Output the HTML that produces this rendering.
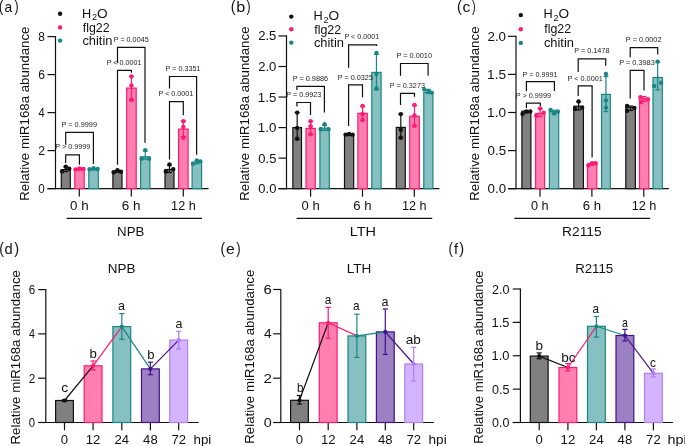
<!DOCTYPE html><html><head><meta charset="utf-8"><style>html,body{margin:0;padding:0;background:#fff;overflow:hidden;}svg{display:block;will-change:transform;}</style></head><body>
<svg width="685" height="446" viewBox="0 0 685 446" font-family='"Liberation Sans", sans-serif'>
<rect width="685" height="446" fill="#fff"/>
<line x1="55.50" y1="36.00" x2="55.50" y2="189.20" stroke="#111" stroke-width="1.2"/>
<line x1="47.50" y1="188.60" x2="55.50" y2="188.60" stroke="#111" stroke-width="1.2"/>
<text x="38.29" y="193.10" font-size="12.6" fill="#111" textLength="6.50" lengthAdjust="spacingAndGlyphs">0</text>
<line x1="47.50" y1="150.60" x2="55.50" y2="150.60" stroke="#111" stroke-width="1.2"/>
<text x="38.14" y="155.10" font-size="12.6" fill="#111" textLength="6.83" lengthAdjust="spacingAndGlyphs">2</text>
<line x1="47.50" y1="112.60" x2="55.50" y2="112.60" stroke="#111" stroke-width="1.2"/>
<text x="38.51" y="117.10" font-size="12.6" fill="#111" textLength="6.17" lengthAdjust="spacingAndGlyphs">4</text>
<line x1="47.50" y1="74.60" x2="55.50" y2="74.60" stroke="#111" stroke-width="1.2"/>
<text x="38.15" y="79.10" font-size="12.6" fill="#111" textLength="6.73" lengthAdjust="spacingAndGlyphs">6</text>
<line x1="47.50" y1="36.60" x2="55.50" y2="36.60" stroke="#111" stroke-width="1.2"/>
<text x="38.24" y="41.10" font-size="12.6" fill="#111" textLength="6.63" lengthAdjust="spacingAndGlyphs">8</text>
<line x1="47.50" y1="188.60" x2="208.50" y2="188.60" stroke="#111" stroke-width="1.2"/>
<line x1="79.30" y1="188.60" x2="79.30" y2="196.60" stroke="#111" stroke-width="1.2"/>
<text x="70.03" y="210.40" font-size="12.8" fill="#111" textLength="18.58" lengthAdjust="spacingAndGlyphs">0 h</text>
<line x1="131.30" y1="188.60" x2="131.30" y2="196.60" stroke="#111" stroke-width="1.2"/>
<text x="121.88" y="210.40" font-size="12.8" fill="#111" textLength="18.74" lengthAdjust="spacingAndGlyphs">6 h</text>
<line x1="183.30" y1="188.60" x2="183.30" y2="196.60" stroke="#111" stroke-width="1.2"/>
<text x="171.09" y="210.40" font-size="12.8" fill="#111" textLength="24.68" lengthAdjust="spacingAndGlyphs">12 h</text>
<line x1="66.60" y1="218.30" x2="202.10" y2="218.30" stroke="#111" stroke-width="1.2"/>
<text x="117.06" y="236.40" font-size="13.6" fill="#111" textLength="27.28" lengthAdjust="spacingAndGlyphs">NPB</text>
<rect x="61.30" y="169.60" width="9.00" height="19.00" fill="#808080" stroke="#111111" stroke-width="1.2"/>
<rect x="74.80" y="169.60" width="9.40" height="19.00" fill="#ff7fb0" stroke="#ff1a72" stroke-width="1.2"/>
<rect x="88.80" y="169.60" width="9.50" height="19.00" fill="#87c0c0" stroke="#1a8585" stroke-width="1.2"/>
<rect x="112.90" y="171.20" width="9.10" height="17.40" fill="#808080" stroke="#111111" stroke-width="1.2"/>
<rect x="126.70" y="88.10" width="9.50" height="100.50" fill="#ff7fb0" stroke="#ff1a72" stroke-width="1.2"/>
<rect x="140.60" y="156.80" width="9.30" height="31.80" fill="#87c0c0" stroke="#1a8585" stroke-width="1.2"/>
<rect x="165.00" y="169.50" width="9.00" height="19.10" fill="#808080" stroke="#111111" stroke-width="1.2"/>
<rect x="178.60" y="129.10" width="9.50" height="59.50" fill="#ff7fb0" stroke="#ff1a72" stroke-width="1.2"/>
<rect x="192.10" y="162.40" width="9.50" height="26.20" fill="#87c0c0" stroke="#1a8585" stroke-width="1.2"/>
<line x1="65.80" y1="166.80" x2="65.80" y2="171.60" stroke="#111111" stroke-width="1.2"/>
<line x1="63.30" y1="166.80" x2="68.30" y2="166.80" stroke="#111111" stroke-width="1.2"/>
<line x1="63.30" y1="171.60" x2="68.30" y2="171.60" stroke="#111111" stroke-width="1.2"/>
<circle cx="62.10" cy="171.40" r="2.2" fill="#111111"/>
<circle cx="65.80" cy="166.80" r="2.2" fill="#111111"/>
<circle cx="69.30" cy="168.70" r="2.2" fill="#111111"/>
<line x1="79.50" y1="168.40" x2="79.50" y2="169.80" stroke="#ff1a72" stroke-width="1.2"/>
<line x1="77.00" y1="168.40" x2="82.00" y2="168.40" stroke="#ff1a72" stroke-width="1.2"/>
<line x1="77.00" y1="169.80" x2="82.00" y2="169.80" stroke="#ff1a72" stroke-width="1.2"/>
<circle cx="75.50" cy="169.40" r="2.2" fill="#ff1a72"/>
<circle cx="79.50" cy="168.40" r="2.2" fill="#ff1a72"/>
<circle cx="83.50" cy="169.00" r="2.2" fill="#ff1a72"/>
<line x1="93.55" y1="168.40" x2="93.55" y2="169.80" stroke="#1a8585" stroke-width="1.2"/>
<line x1="91.05" y1="168.40" x2="96.05" y2="168.40" stroke="#1a8585" stroke-width="1.2"/>
<line x1="91.05" y1="169.80" x2="96.05" y2="169.80" stroke="#1a8585" stroke-width="1.2"/>
<circle cx="89.55" cy="169.20" r="2.2" fill="#1a8585"/>
<circle cx="93.55" cy="168.30" r="2.2" fill="#1a8585"/>
<circle cx="97.55" cy="169.00" r="2.2" fill="#1a8585"/>
<line x1="117.45" y1="170.30" x2="117.45" y2="172.30" stroke="#111111" stroke-width="1.2"/>
<line x1="114.95" y1="170.30" x2="119.95" y2="170.30" stroke="#111111" stroke-width="1.2"/>
<line x1="114.95" y1="172.30" x2="119.95" y2="172.30" stroke="#111111" stroke-width="1.2"/>
<circle cx="113.65" cy="172.30" r="2.2" fill="#111111"/>
<circle cx="117.45" cy="170.30" r="2.2" fill="#111111"/>
<circle cx="120.95" cy="171.80" r="2.2" fill="#111111"/>
<line x1="131.45" y1="76.40" x2="131.45" y2="100.00" stroke="#ff1a72" stroke-width="1.2"/>
<line x1="128.95" y1="76.40" x2="133.95" y2="76.40" stroke="#ff1a72" stroke-width="1.2"/>
<line x1="128.95" y1="100.00" x2="133.95" y2="100.00" stroke="#ff1a72" stroke-width="1.2"/>
<circle cx="131.45" cy="76.40" r="2.2" fill="#ff1a72"/>
<circle cx="131.45" cy="85.40" r="2.2" fill="#ff1a72"/>
<circle cx="131.45" cy="99.70" r="2.2" fill="#ff1a72"/>
<line x1="145.25" y1="151.10" x2="145.25" y2="159.20" stroke="#1a8585" stroke-width="1.2"/>
<line x1="142.75" y1="151.10" x2="147.75" y2="151.10" stroke="#1a8585" stroke-width="1.2"/>
<line x1="142.75" y1="159.20" x2="147.75" y2="159.20" stroke="#1a8585" stroke-width="1.2"/>
<circle cx="145.25" cy="150.10" r="2.2" fill="#1a8585"/>
<circle cx="141.55" cy="158.70" r="2.2" fill="#1a8585"/>
<circle cx="149.05" cy="158.70" r="2.2" fill="#1a8585"/>
<line x1="169.50" y1="165.10" x2="169.50" y2="172.50" stroke="#111111" stroke-width="1.2"/>
<line x1="167.00" y1="165.10" x2="172.00" y2="165.10" stroke="#111111" stroke-width="1.2"/>
<line x1="167.00" y1="172.50" x2="172.00" y2="172.50" stroke="#111111" stroke-width="1.2"/>
<circle cx="169.50" cy="164.50" r="2.2" fill="#111111"/>
<circle cx="165.80" cy="171.50" r="2.2" fill="#111111"/>
<circle cx="173.20" cy="169.20" r="2.2" fill="#111111"/>
<line x1="183.35" y1="120.70" x2="183.35" y2="136.50" stroke="#ff1a72" stroke-width="1.2"/>
<line x1="180.85" y1="120.70" x2="185.85" y2="120.70" stroke="#ff1a72" stroke-width="1.2"/>
<line x1="180.85" y1="136.50" x2="185.85" y2="136.50" stroke="#ff1a72" stroke-width="1.2"/>
<circle cx="183.35" cy="121.20" r="2.2" fill="#ff1a72"/>
<circle cx="183.35" cy="126.90" r="2.2" fill="#ff1a72"/>
<circle cx="183.35" cy="137.70" r="2.2" fill="#ff1a72"/>
<line x1="196.85" y1="160.50" x2="196.85" y2="163.80" stroke="#1a8585" stroke-width="1.2"/>
<line x1="194.35" y1="160.50" x2="199.35" y2="160.50" stroke="#1a8585" stroke-width="1.2"/>
<line x1="194.35" y1="163.80" x2="199.35" y2="163.80" stroke="#1a8585" stroke-width="1.2"/>
<circle cx="192.95" cy="163.80" r="2.2" fill="#1a8585"/>
<circle cx="196.85" cy="160.40" r="2.2" fill="#1a8585"/>
<circle cx="200.35" cy="161.40" r="2.2" fill="#1a8585"/>
<polyline points="65.7,163.0 65.7,154.8 79.4,154.8 79.4,164.8" fill="none" stroke="#111" stroke-width="1.2"/>
<text x="55.36" y="149.30" font-size="7.2" fill="#222" textLength="34.83" lengthAdjust="spacingAndGlyphs">P &gt; 0.9999</text>
<polyline points="65.7,144.7 65.7,132.3 93.4,132.3 93.4,163.9" fill="none" stroke="#111" stroke-width="1.2"/>
<text x="61.55" y="126.80" font-size="7.2" fill="#222" textLength="35.44" lengthAdjust="spacingAndGlyphs">P = 0.9999</text>
<polyline points="117.5,164.7 117.5,70.4 131.4,70.4 131.4,72.8" fill="none" stroke="#111" stroke-width="1.2"/>
<text x="106.76" y="64.80" font-size="7.2" fill="#222" textLength="34.63" lengthAdjust="spacingAndGlyphs">P &lt; 0.0001</text>
<polyline points="117.5,63.0 117.5,47.4 145.0,47.4 145.0,142.7" fill="none" stroke="#111" stroke-width="1.2"/>
<text x="113.76" y="42.00" font-size="7.2" fill="#222" textLength="34.89" lengthAdjust="spacingAndGlyphs">P = 0.0045</text>
<polyline points="169.5,159.4 169.5,101.7 183.3,101.7 183.3,115.3" fill="none" stroke="#111" stroke-width="1.2"/>
<text x="158.56" y="96.00" font-size="7.2" fill="#222" textLength="34.73" lengthAdjust="spacingAndGlyphs">P &lt; 0.0001</text>
<polyline points="169.5,88.4 169.5,76.5 196.6,76.5 196.6,154.8" fill="none" stroke="#111" stroke-width="1.2"/>
<text x="165.56" y="71.40" font-size="7.2" fill="#222" textLength="34.94" lengthAdjust="spacingAndGlyphs">P = 0.3351</text>
<circle cx="60.10" cy="13.80" r="2.2" fill="#111"/>
<circle cx="60.10" cy="27.40" r="2.2" fill="#ff1a72"/>
<circle cx="60.10" cy="40.60" r="2.2" fill="#1a8585"/>
<text x="82.10" y="17.70" font-size="12.6" fill="#111" textLength="9.2" lengthAdjust="spacingAndGlyphs">H</text>
<text x="91.90" y="20.20" font-size="9.2" fill="#111">2</text>
<text x="96.90" y="17.70" font-size="12.6" fill="#111" textLength="10.6" lengthAdjust="spacingAndGlyphs">O</text>
<text x="82.78" y="31.60" font-size="12.6" fill="#111" textLength="26.80" lengthAdjust="spacingAndGlyphs">flg22</text>
<text x="82.41" y="44.70" font-size="12.6" fill="#111" textLength="30.07" lengthAdjust="spacingAndGlyphs">chitin</text>
<text x="-1.14" y="12.30" font-size="16.6" fill="#111" textLength="4.51" lengthAdjust="spacingAndGlyphs">(</text>
<text x="4.62" y="11.70" font-size="14.3" fill="#111" textLength="7.67" lengthAdjust="spacingAndGlyphs">a</text>
<text x="14.54" y="12.30" font-size="16.6" fill="#111" textLength="4.13" lengthAdjust="spacingAndGlyphs">)</text>
<g transform="translate(29.20,200.74) rotate(-90)"><text x="0" y="0" font-size="13.3" fill="#111" textLength="174.17" lengthAdjust="spacingAndGlyphs">Relative miR168a abundance</text></g>
<line x1="286.50" y1="35.35" x2="286.50" y2="189.30" stroke="#111" stroke-width="1.2"/>
<line x1="278.50" y1="188.70" x2="286.50" y2="188.70" stroke="#111" stroke-width="1.2"/>
<text x="258.35" y="193.20" font-size="12.6" fill="#111" textLength="18.00" lengthAdjust="spacingAndGlyphs">0.0</text>
<line x1="278.50" y1="158.15" x2="286.50" y2="158.15" stroke="#111" stroke-width="1.2"/>
<text x="258.34" y="162.65" font-size="12.6" fill="#111" textLength="18.04" lengthAdjust="spacingAndGlyphs">0.5</text>
<line x1="278.50" y1="127.60" x2="286.50" y2="127.60" stroke="#111" stroke-width="1.2"/>
<text x="257.84" y="132.10" font-size="12.6" fill="#111" textLength="18.52" lengthAdjust="spacingAndGlyphs">1.0</text>
<line x1="278.50" y1="97.05" x2="286.50" y2="97.05" stroke="#111" stroke-width="1.2"/>
<text x="257.84" y="101.55" font-size="12.6" fill="#111" textLength="18.56" lengthAdjust="spacingAndGlyphs">1.5</text>
<line x1="278.50" y1="66.50" x2="286.50" y2="66.50" stroke="#111" stroke-width="1.2"/>
<text x="258.20" y="71.00" font-size="12.6" fill="#111" textLength="18.15" lengthAdjust="spacingAndGlyphs">2.0</text>
<line x1="278.50" y1="35.95" x2="286.50" y2="35.95" stroke="#111" stroke-width="1.2"/>
<text x="258.20" y="40.45" font-size="12.6" fill="#111" textLength="18.19" lengthAdjust="spacingAndGlyphs">2.5</text>
<line x1="278.50" y1="188.70" x2="439.40" y2="188.70" stroke="#111" stroke-width="1.2"/>
<line x1="310.60" y1="188.70" x2="310.60" y2="196.70" stroke="#111" stroke-width="1.2"/>
<text x="301.54" y="210.40" font-size="12.8" fill="#111" textLength="18.15" lengthAdjust="spacingAndGlyphs">0 h</text>
<line x1="362.50" y1="188.70" x2="362.50" y2="196.70" stroke="#111" stroke-width="1.2"/>
<text x="353.29" y="210.40" font-size="12.8" fill="#111" textLength="18.30" lengthAdjust="spacingAndGlyphs">6 h</text>
<line x1="414.30" y1="188.70" x2="414.30" y2="196.70" stroke="#111" stroke-width="1.2"/>
<text x="401.99" y="210.40" font-size="12.8" fill="#111" textLength="24.68" lengthAdjust="spacingAndGlyphs">12 h</text>
<line x1="296.60" y1="218.30" x2="432.20" y2="218.30" stroke="#111" stroke-width="1.2"/>
<text x="349.76" y="236.40" font-size="13.6" fill="#111" textLength="26.26" lengthAdjust="spacingAndGlyphs">LTH</text>
<rect x="292.85" y="127.60" width="8.65" height="61.10" fill="#808080" stroke="#111111" stroke-width="1.2"/>
<rect x="306.00" y="128.40" width="9.30" height="60.30" fill="#ff7fb0" stroke="#ff1a72" stroke-width="1.2"/>
<rect x="319.90" y="128.20" width="9.40" height="60.50" fill="#87c0c0" stroke="#1a8585" stroke-width="1.2"/>
<rect x="344.50" y="134.60" width="9.20" height="54.10" fill="#808080" stroke="#111111" stroke-width="1.2"/>
<rect x="357.90" y="113.30" width="9.40" height="75.40" fill="#ff7fb0" stroke="#ff1a72" stroke-width="1.2"/>
<rect x="371.80" y="72.40" width="9.30" height="116.30" fill="#87c0c0" stroke="#1a8585" stroke-width="1.2"/>
<rect x="396.30" y="127.40" width="9.00" height="61.30" fill="#808080" stroke="#111111" stroke-width="1.2"/>
<rect x="409.70" y="116.30" width="9.60" height="72.40" fill="#ff7fb0" stroke="#ff1a72" stroke-width="1.2"/>
<rect x="423.80" y="92.30" width="9.10" height="96.40" fill="#87c0c0" stroke="#1a8585" stroke-width="1.2"/>
<line x1="297.18" y1="112.60" x2="297.18" y2="139.50" stroke="#111111" stroke-width="1.2"/>
<line x1="294.68" y1="112.60" x2="299.68" y2="112.60" stroke="#111111" stroke-width="1.2"/>
<line x1="294.68" y1="139.50" x2="299.68" y2="139.50" stroke="#111111" stroke-width="1.2"/>
<circle cx="297.18" cy="112.60" r="2.2" fill="#111111"/>
<circle cx="297.18" cy="128.00" r="2.2" fill="#111111"/>
<circle cx="297.18" cy="138.80" r="2.2" fill="#111111"/>
<line x1="310.65" y1="121.50" x2="310.65" y2="134.50" stroke="#ff1a72" stroke-width="1.2"/>
<line x1="308.15" y1="121.50" x2="313.15" y2="121.50" stroke="#ff1a72" stroke-width="1.2"/>
<line x1="308.15" y1="134.50" x2="313.15" y2="134.50" stroke="#ff1a72" stroke-width="1.2"/>
<circle cx="310.65" cy="121.10" r="2.2" fill="#ff1a72"/>
<circle cx="310.65" cy="126.20" r="2.2" fill="#ff1a72"/>
<circle cx="310.65" cy="134.20" r="2.2" fill="#ff1a72"/>
<line x1="324.60" y1="125.50" x2="324.60" y2="130.50" stroke="#1a8585" stroke-width="1.2"/>
<line x1="322.10" y1="125.50" x2="327.10" y2="125.50" stroke="#1a8585" stroke-width="1.2"/>
<line x1="322.10" y1="130.50" x2="327.10" y2="130.50" stroke="#1a8585" stroke-width="1.2"/>
<circle cx="324.60" cy="124.20" r="2.2" fill="#1a8585"/>
<circle cx="320.70" cy="129.20" r="2.2" fill="#1a8585"/>
<circle cx="328.50" cy="129.20" r="2.2" fill="#1a8585"/>
<line x1="349.10" y1="133.80" x2="349.10" y2="135.50" stroke="#111111" stroke-width="1.2"/>
<line x1="346.60" y1="133.80" x2="351.60" y2="133.80" stroke="#111111" stroke-width="1.2"/>
<line x1="346.60" y1="135.50" x2="351.60" y2="135.50" stroke="#111111" stroke-width="1.2"/>
<circle cx="345.60" cy="134.60" r="2.2" fill="#111111"/>
<circle cx="349.10" cy="134.00" r="2.2" fill="#111111"/>
<circle cx="352.60" cy="134.60" r="2.2" fill="#111111"/>
<line x1="362.60" y1="106.50" x2="362.60" y2="120.30" stroke="#ff1a72" stroke-width="1.2"/>
<line x1="360.10" y1="106.50" x2="365.10" y2="106.50" stroke="#ff1a72" stroke-width="1.2"/>
<line x1="360.10" y1="120.30" x2="365.10" y2="120.30" stroke="#ff1a72" stroke-width="1.2"/>
<circle cx="362.60" cy="105.90" r="2.2" fill="#ff1a72"/>
<circle cx="362.60" cy="114.20" r="2.2" fill="#ff1a72"/>
<circle cx="362.60" cy="120.00" r="2.2" fill="#ff1a72"/>
<line x1="376.45" y1="54.30" x2="376.45" y2="89.70" stroke="#1a8585" stroke-width="1.2"/>
<line x1="373.95" y1="54.30" x2="378.95" y2="54.30" stroke="#1a8585" stroke-width="1.2"/>
<line x1="373.95" y1="89.70" x2="378.95" y2="89.70" stroke="#1a8585" stroke-width="1.2"/>
<circle cx="376.45" cy="53.00" r="2.2" fill="#1a8585"/>
<circle cx="376.45" cy="74.10" r="2.2" fill="#1a8585"/>
<circle cx="376.45" cy="88.50" r="2.2" fill="#1a8585"/>
<line x1="400.80" y1="114.10" x2="400.80" y2="137.80" stroke="#111111" stroke-width="1.2"/>
<line x1="398.30" y1="114.10" x2="403.30" y2="114.10" stroke="#111111" stroke-width="1.2"/>
<line x1="398.30" y1="137.80" x2="403.30" y2="137.80" stroke="#111111" stroke-width="1.2"/>
<circle cx="400.80" cy="114.10" r="2.2" fill="#111111"/>
<circle cx="400.80" cy="129.70" r="2.2" fill="#111111"/>
<circle cx="400.80" cy="137.80" r="2.2" fill="#111111"/>
<line x1="414.50" y1="105.50" x2="414.50" y2="125.90" stroke="#ff1a72" stroke-width="1.2"/>
<line x1="412.00" y1="105.50" x2="417.00" y2="105.50" stroke="#ff1a72" stroke-width="1.2"/>
<line x1="412.00" y1="125.90" x2="417.00" y2="125.90" stroke="#ff1a72" stroke-width="1.2"/>
<circle cx="414.50" cy="104.90" r="2.2" fill="#ff1a72"/>
<circle cx="414.50" cy="115.50" r="2.2" fill="#ff1a72"/>
<circle cx="414.50" cy="125.70" r="2.2" fill="#ff1a72"/>
<line x1="428.35" y1="89.60" x2="428.35" y2="93.50" stroke="#1a8585" stroke-width="1.2"/>
<line x1="425.85" y1="89.60" x2="430.85" y2="89.60" stroke="#1a8585" stroke-width="1.2"/>
<line x1="425.85" y1="93.50" x2="430.85" y2="93.50" stroke="#1a8585" stroke-width="1.2"/>
<circle cx="424.35" cy="89.40" r="2.2" fill="#1a8585"/>
<circle cx="428.35" cy="90.80" r="2.2" fill="#1a8585"/>
<circle cx="431.65" cy="92.60" r="2.2" fill="#1a8585"/>
<polyline points="296.9,106.5 296.9,102.5 310.5,102.5 310.5,115.0" fill="none" stroke="#111" stroke-width="1.2"/>
<text x="286.36" y="96.70" font-size="7.2" fill="#222" textLength="34.90" lengthAdjust="spacingAndGlyphs">P = 0.9923</text>
<polyline points="296.9,90.0 296.9,86.4 324.4,86.4 324.4,112.5" fill="none" stroke="#111" stroke-width="1.2"/>
<text x="292.75" y="80.80" font-size="7.2" fill="#222" textLength="35.31" lengthAdjust="spacingAndGlyphs">P = 0.9886</text>
<polyline points="348.6,126.1 348.6,84.8 362.5,84.8 362.5,97.2" fill="none" stroke="#111" stroke-width="1.2"/>
<text x="337.75" y="79.50" font-size="7.2" fill="#222" textLength="35.19" lengthAdjust="spacingAndGlyphs">P = 0.0325</text>
<polyline points="348.6,67.8 348.6,44.8 376.6,44.8 376.6,46.0" fill="none" stroke="#111" stroke-width="1.2"/>
<text x="344.46" y="39.10" font-size="7.2" fill="#222" textLength="34.84" lengthAdjust="spacingAndGlyphs">P &lt; 0.0001</text>
<polyline points="400.5,104.9 400.5,93.3 414.5,93.3 414.5,96.8" fill="none" stroke="#111" stroke-width="1.2"/>
<text x="389.75" y="87.80" font-size="7.2" fill="#222" textLength="35.21" lengthAdjust="spacingAndGlyphs">P = 0.3273</text>
<polyline points="400.5,75.7 400.5,63.5 428.1,63.5 428.1,75.7" fill="none" stroke="#111" stroke-width="1.2"/>
<text x="396.45" y="57.90" font-size="7.2" fill="#222" textLength="35.58" lengthAdjust="spacingAndGlyphs">P = 0.0010</text>
<circle cx="291.30" cy="16.60" r="2.2" fill="#111"/>
<circle cx="291.30" cy="29.20" r="2.2" fill="#ff1a72"/>
<circle cx="291.30" cy="42.60" r="2.2" fill="#1a8585"/>
<text x="313.60" y="20.30" font-size="12.6" fill="#111" textLength="9.2" lengthAdjust="spacingAndGlyphs">H</text>
<text x="323.40" y="22.80" font-size="9.2" fill="#111">2</text>
<text x="328.40" y="20.30" font-size="12.6" fill="#111" textLength="10.6" lengthAdjust="spacingAndGlyphs">O</text>
<text x="314.28" y="33.50" font-size="12.6" fill="#111" textLength="26.80" lengthAdjust="spacingAndGlyphs">flg22</text>
<text x="313.91" y="46.60" font-size="12.6" fill="#111" textLength="30.07" lengthAdjust="spacingAndGlyphs">chitin</text>
<text x="230.81" y="12.30" font-size="16.6" fill="#111" textLength="4.76" lengthAdjust="spacingAndGlyphs">(</text>
<text x="236.36" y="11.70" font-size="14.3" fill="#111" textLength="9.00" lengthAdjust="spacingAndGlyphs">b</text>
<text x="246.54" y="12.30" font-size="16.6" fill="#111" textLength="4.13" lengthAdjust="spacingAndGlyphs">)</text>
<g transform="translate(249.00,200.74) rotate(-90)"><text x="0" y="0" font-size="13.3" fill="#111" textLength="174.27" lengthAdjust="spacingAndGlyphs">Relative miR168a abundance</text></g>
<line x1="516.00" y1="35.70" x2="516.00" y2="189.30" stroke="#111" stroke-width="1.2"/>
<line x1="508.00" y1="188.70" x2="516.00" y2="188.70" stroke="#111" stroke-width="1.2"/>
<text x="487.63" y="193.20" font-size="12.6" fill="#111" textLength="18.42" lengthAdjust="spacingAndGlyphs">0.0</text>
<line x1="508.00" y1="150.60" x2="516.00" y2="150.60" stroke="#111" stroke-width="1.2"/>
<text x="487.63" y="155.10" font-size="12.6" fill="#111" textLength="18.46" lengthAdjust="spacingAndGlyphs">0.5</text>
<line x1="508.00" y1="112.50" x2="516.00" y2="112.50" stroke="#111" stroke-width="1.2"/>
<text x="487.11" y="117.00" font-size="12.6" fill="#111" textLength="18.96" lengthAdjust="spacingAndGlyphs">1.0</text>
<line x1="508.00" y1="74.40" x2="516.00" y2="74.40" stroke="#111" stroke-width="1.2"/>
<text x="487.11" y="78.90" font-size="12.6" fill="#111" textLength="19.00" lengthAdjust="spacingAndGlyphs">1.5</text>
<line x1="508.00" y1="36.30" x2="516.00" y2="36.30" stroke="#111" stroke-width="1.2"/>
<text x="487.48" y="40.80" font-size="12.6" fill="#111" textLength="18.58" lengthAdjust="spacingAndGlyphs">2.0</text>
<line x1="508.00" y1="188.70" x2="668.80" y2="188.70" stroke="#111" stroke-width="1.2"/>
<line x1="540.00" y1="188.70" x2="540.00" y2="196.70" stroke="#111" stroke-width="1.2"/>
<text x="530.95" y="210.40" font-size="12.8" fill="#111" textLength="17.71" lengthAdjust="spacingAndGlyphs">0 h</text>
<line x1="591.90" y1="188.70" x2="591.90" y2="196.70" stroke="#111" stroke-width="1.2"/>
<text x="582.69" y="210.40" font-size="12.8" fill="#111" textLength="18.30" lengthAdjust="spacingAndGlyphs">6 h</text>
<line x1="643.80" y1="188.70" x2="643.80" y2="196.70" stroke="#111" stroke-width="1.2"/>
<text x="631.69" y="210.40" font-size="12.8" fill="#111" textLength="24.68" lengthAdjust="spacingAndGlyphs">12 h</text>
<line x1="514.40" y1="218.30" x2="650.20" y2="218.30" stroke="#111" stroke-width="1.2"/>
<text x="562.12" y="236.40" font-size="13.6" fill="#111" textLength="39.50" lengthAdjust="spacingAndGlyphs">R2115</text>
<rect x="521.90" y="111.20" width="9.00" height="77.50" fill="#808080" stroke="#111111" stroke-width="1.2"/>
<rect x="535.60" y="113.40" width="9.00" height="75.30" fill="#ff7fb0" stroke="#ff1a72" stroke-width="1.2"/>
<rect x="549.40" y="111.60" width="9.30" height="77.10" fill="#87c0c0" stroke="#1a8585" stroke-width="1.2"/>
<rect x="573.80" y="106.20" width="9.60" height="82.50" fill="#808080" stroke="#111111" stroke-width="1.2"/>
<rect x="587.50" y="163.80" width="9.30" height="24.90" fill="#ff7fb0" stroke="#ff1a72" stroke-width="1.2"/>
<rect x="601.60" y="94.40" width="8.70" height="94.30" fill="#87c0c0" stroke="#1a8585" stroke-width="1.2"/>
<rect x="625.80" y="107.40" width="9.60" height="81.30" fill="#808080" stroke="#111111" stroke-width="1.2"/>
<rect x="639.50" y="98.60" width="9.30" height="90.10" fill="#ff7fb0" stroke="#ff1a72" stroke-width="1.2"/>
<rect x="653.00" y="77.50" width="9.30" height="111.20" fill="#87c0c0" stroke="#1a8585" stroke-width="1.2"/>
<line x1="526.40" y1="110.60" x2="526.40" y2="112.80" stroke="#111111" stroke-width="1.2"/>
<line x1="523.90" y1="110.60" x2="528.90" y2="110.60" stroke="#111111" stroke-width="1.2"/>
<line x1="523.90" y1="112.80" x2="528.90" y2="112.80" stroke="#111111" stroke-width="1.2"/>
<circle cx="522.50" cy="114.00" r="2.2" fill="#111111"/>
<circle cx="526.40" cy="111.50" r="2.2" fill="#111111"/>
<circle cx="530.30" cy="111.50" r="2.2" fill="#111111"/>
<line x1="540.10" y1="108.60" x2="540.10" y2="116.50" stroke="#ff1a72" stroke-width="1.2"/>
<line x1="537.60" y1="108.60" x2="542.60" y2="108.60" stroke="#ff1a72" stroke-width="1.2"/>
<line x1="537.60" y1="116.50" x2="542.60" y2="116.50" stroke="#ff1a72" stroke-width="1.2"/>
<circle cx="540.10" cy="108.50" r="2.2" fill="#ff1a72"/>
<circle cx="536.20" cy="115.80" r="2.2" fill="#ff1a72"/>
<circle cx="543.60" cy="112.70" r="2.2" fill="#ff1a72"/>
<line x1="554.05" y1="110.30" x2="554.05" y2="114.00" stroke="#1a8585" stroke-width="1.2"/>
<line x1="551.55" y1="110.30" x2="556.55" y2="110.30" stroke="#1a8585" stroke-width="1.2"/>
<line x1="551.55" y1="114.00" x2="556.55" y2="114.00" stroke="#1a8585" stroke-width="1.2"/>
<circle cx="550.55" cy="110.00" r="2.2" fill="#1a8585"/>
<circle cx="554.05" cy="113.50" r="2.2" fill="#1a8585"/>
<circle cx="557.85" cy="111.50" r="2.2" fill="#1a8585"/>
<line x1="578.60" y1="101.80" x2="578.60" y2="110.00" stroke="#111111" stroke-width="1.2"/>
<line x1="576.10" y1="101.80" x2="581.10" y2="101.80" stroke="#111111" stroke-width="1.2"/>
<line x1="576.10" y1="110.00" x2="581.10" y2="110.00" stroke="#111111" stroke-width="1.2"/>
<circle cx="578.60" cy="101.50" r="2.2" fill="#111111"/>
<circle cx="575.10" cy="108.90" r="2.2" fill="#111111"/>
<circle cx="582.10" cy="107.60" r="2.2" fill="#111111"/>
<line x1="592.15" y1="162.60" x2="592.15" y2="165.00" stroke="#ff1a72" stroke-width="1.2"/>
<line x1="589.65" y1="162.60" x2="594.65" y2="162.60" stroke="#ff1a72" stroke-width="1.2"/>
<line x1="589.65" y1="165.00" x2="594.65" y2="165.00" stroke="#ff1a72" stroke-width="1.2"/>
<circle cx="588.35" cy="165.50" r="2.2" fill="#ff1a72"/>
<circle cx="592.15" cy="163.20" r="2.2" fill="#ff1a72"/>
<circle cx="595.55" cy="163.20" r="2.2" fill="#ff1a72"/>
<line x1="605.95" y1="76.50" x2="605.95" y2="111.60" stroke="#1a8585" stroke-width="1.2"/>
<line x1="603.45" y1="76.50" x2="608.45" y2="76.50" stroke="#1a8585" stroke-width="1.2"/>
<line x1="603.45" y1="111.60" x2="608.45" y2="111.60" stroke="#1a8585" stroke-width="1.2"/>
<circle cx="605.95" cy="74.00" r="2.2" fill="#1a8585"/>
<circle cx="605.95" cy="100.40" r="2.2" fill="#1a8585"/>
<circle cx="605.95" cy="107.60" r="2.2" fill="#1a8585"/>
<line x1="630.60" y1="106.00" x2="630.60" y2="110.50" stroke="#111111" stroke-width="1.2"/>
<line x1="628.10" y1="106.00" x2="633.10" y2="106.00" stroke="#111111" stroke-width="1.2"/>
<line x1="628.10" y1="110.50" x2="633.10" y2="110.50" stroke="#111111" stroke-width="1.2"/>
<circle cx="627.10" cy="106.00" r="2.2" fill="#111111"/>
<circle cx="627.10" cy="110.70" r="2.2" fill="#111111"/>
<circle cx="634.40" cy="108.00" r="2.2" fill="#111111"/>
<line x1="644.15" y1="96.50" x2="644.15" y2="101.50" stroke="#ff1a72" stroke-width="1.2"/>
<line x1="641.65" y1="96.50" x2="646.65" y2="96.50" stroke="#ff1a72" stroke-width="1.2"/>
<line x1="641.65" y1="101.50" x2="646.65" y2="101.50" stroke="#ff1a72" stroke-width="1.2"/>
<circle cx="640.45" cy="97.30" r="2.2" fill="#ff1a72"/>
<circle cx="641.15" cy="102.00" r="2.2" fill="#ff1a72"/>
<circle cx="647.85" cy="99.30" r="2.2" fill="#ff1a72"/>
<line x1="657.65" y1="62.50" x2="657.65" y2="89.90" stroke="#1a8585" stroke-width="1.2"/>
<line x1="655.15" y1="62.50" x2="660.15" y2="62.50" stroke="#1a8585" stroke-width="1.2"/>
<line x1="655.15" y1="89.90" x2="660.15" y2="89.90" stroke="#1a8585" stroke-width="1.2"/>
<circle cx="657.65" cy="61.60" r="2.2" fill="#1a8585"/>
<circle cx="654.15" cy="85.90" r="2.2" fill="#1a8585"/>
<circle cx="661.15" cy="82.80" r="2.2" fill="#1a8585"/>
<polyline points="526.4,108.0 526.4,103.1 540.3,103.1 540.3,106.0" fill="none" stroke="#111" stroke-width="1.2"/>
<text x="515.75" y="97.80" font-size="7.2" fill="#222" textLength="35.24" lengthAdjust="spacingAndGlyphs">P &gt; 0.9999</text>
<polyline points="526.4,91.3 526.4,81.6 554.4,81.6 554.4,91.0" fill="none" stroke="#111" stroke-width="1.2"/>
<text x="522.56" y="76.50" font-size="7.2" fill="#222" textLength="34.84" lengthAdjust="spacingAndGlyphs">P = 0.9991</text>
<polyline points="578.2,96.1 578.2,85.8 592.1,85.8 592.1,157.6" fill="none" stroke="#111" stroke-width="1.2"/>
<text x="567.55" y="80.50" font-size="7.2" fill="#222" textLength="35.25" lengthAdjust="spacingAndGlyphs">P &lt; 0.0001</text>
<polyline points="578.2,72.0 578.2,58.9 605.7,58.9 605.7,65.7" fill="none" stroke="#111" stroke-width="1.2"/>
<text x="574.25" y="53.40" font-size="7.2" fill="#222" textLength="35.21" lengthAdjust="spacingAndGlyphs">P = 0.1478</text>
<polyline points="630.2,98.6 630.2,70.4 644.0,70.4 644.0,90.6" fill="none" stroke="#111" stroke-width="1.2"/>
<text x="619.15" y="65.00" font-size="7.2" fill="#222" textLength="35.62" lengthAdjust="spacingAndGlyphs">P = 0.3983</text>
<polyline points="630.2,57.3 630.2,47.6 657.7,47.6 657.7,54.6" fill="none" stroke="#111" stroke-width="1.2"/>
<text x="625.85" y="41.80" font-size="7.2" fill="#222" textLength="35.67" lengthAdjust="spacingAndGlyphs">P = 0.0002</text>
<circle cx="520.80" cy="15.10" r="2.2" fill="#111"/>
<circle cx="520.80" cy="29.20" r="2.2" fill="#ff1a72"/>
<circle cx="520.80" cy="42.90" r="2.2" fill="#1a8585"/>
<text x="543.60" y="18.40" font-size="12.6" fill="#111" textLength="9.2" lengthAdjust="spacingAndGlyphs">H</text>
<text x="553.40" y="20.90" font-size="9.2" fill="#111">2</text>
<text x="558.40" y="18.40" font-size="12.6" fill="#111" textLength="10.6" lengthAdjust="spacingAndGlyphs">O</text>
<text x="544.28" y="33.40" font-size="12.6" fill="#111" textLength="26.80" lengthAdjust="spacingAndGlyphs">flg22</text>
<text x="543.91" y="46.50" font-size="12.6" fill="#111" textLength="30.07" lengthAdjust="spacingAndGlyphs">chitin</text>
<text x="457.11" y="12.30" font-size="16.6" fill="#111" textLength="4.76" lengthAdjust="spacingAndGlyphs">(</text>
<text x="462.64" y="11.70" font-size="14.3" fill="#111" textLength="7.87" lengthAdjust="spacingAndGlyphs">c</text>
<text x="471.95" y="12.30" font-size="16.6" fill="#111" textLength="3.63" lengthAdjust="spacingAndGlyphs">)</text>
<g transform="translate(478.80,200.74) rotate(-90)"><text x="0" y="0" font-size="13.3" fill="#111" textLength="174.27" lengthAdjust="spacingAndGlyphs">Relative miR168a abundance</text></g>
<line x1="45.80" y1="289.00" x2="45.80" y2="423.10" stroke="#111" stroke-width="1.2"/>
<line x1="38.20" y1="422.50" x2="45.80" y2="422.50" stroke="#111" stroke-width="1.2"/>
<text x="28.81" y="427.00" font-size="12.6" fill="#111" textLength="6.27" lengthAdjust="spacingAndGlyphs">0</text>
<line x1="38.20" y1="378.20" x2="45.80" y2="378.20" stroke="#111" stroke-width="1.2"/>
<text x="28.66" y="382.70" font-size="12.6" fill="#111" textLength="6.59" lengthAdjust="spacingAndGlyphs">2</text>
<line x1="38.20" y1="333.90" x2="45.80" y2="333.90" stroke="#111" stroke-width="1.2"/>
<text x="29.01" y="338.40" font-size="12.6" fill="#111" textLength="5.95" lengthAdjust="spacingAndGlyphs">4</text>
<line x1="38.20" y1="289.60" x2="45.80" y2="289.60" stroke="#111" stroke-width="1.2"/>
<text x="28.67" y="294.10" font-size="12.6" fill="#111" textLength="6.49" lengthAdjust="spacingAndGlyphs">6</text>
<line x1="38.20" y1="422.50" x2="198.60" y2="422.50" stroke="#111" stroke-width="1.2"/>
<line x1="64.50" y1="422.50" x2="64.50" y2="430.30" stroke="#111" stroke-width="1.2"/>
<text x="64.50" y="443.90" font-size="13.1" fill="#111" text-anchor="middle">0</text>
<line x1="93.10" y1="422.50" x2="93.10" y2="430.30" stroke="#111" stroke-width="1.2"/>
<text x="93.10" y="443.90" font-size="13.1" fill="#111" text-anchor="middle">12</text>
<line x1="121.80" y1="422.50" x2="121.80" y2="430.30" stroke="#111" stroke-width="1.2"/>
<text x="121.80" y="443.90" font-size="13.1" fill="#111" text-anchor="middle">24</text>
<line x1="150.40" y1="422.50" x2="150.40" y2="430.30" stroke="#111" stroke-width="1.2"/>
<text x="150.40" y="443.90" font-size="13.1" fill="#111" text-anchor="middle">48</text>
<line x1="178.70" y1="422.50" x2="178.70" y2="430.30" stroke="#111" stroke-width="1.2"/>
<text x="178.70" y="443.90" font-size="13.1" fill="#111" text-anchor="middle">72</text>
<text x="193.53" y="443.50" font-size="12.8" fill="#111" textLength="17.82" lengthAdjust="spacingAndGlyphs">hpi</text>
<text x="107.85" y="272.60" font-size="13.6" fill="#111" textLength="27.71" lengthAdjust="spacingAndGlyphs">NPB</text>
<rect x="55.60" y="400.50" width="17.80" height="22.00" fill="#808080" stroke="#111111" stroke-width="1.2"/>
<rect x="84.20" y="365.80" width="17.80" height="56.70" fill="#ff7fb0" stroke="#ff1a72" stroke-width="1.2"/>
<rect x="112.90" y="326.60" width="17.80" height="95.90" fill="#87c0c0" stroke="#1a8585" stroke-width="1.2"/>
<rect x="141.50" y="368.90" width="17.80" height="53.60" fill="#9b80c2" stroke="#42108f" stroke-width="1.2"/>
<rect x="169.80" y="340.10" width="17.80" height="82.40" fill="#d5b4ff" stroke="#b07ff0" stroke-width="1.2"/>
<line x1="64.50" y1="400.50" x2="93.10" y2="365.80" stroke="#111111" stroke-width="1.2"/>
<line x1="93.10" y1="365.80" x2="121.80" y2="326.60" stroke="#ff1a72" stroke-width="1.2"/>
<line x1="121.80" y1="326.60" x2="150.40" y2="368.90" stroke="#1a8585" stroke-width="1.2"/>
<line x1="150.40" y1="368.90" x2="178.70" y2="340.10" stroke="#42108f" stroke-width="1.2"/>
<line x1="64.50" y1="399.60" x2="64.50" y2="401.50" stroke="#111111" stroke-width="1.2"/>
<line x1="61.90" y1="399.60" x2="67.10" y2="399.60" stroke="#111111" stroke-width="1.2"/>
<line x1="61.90" y1="401.50" x2="67.10" y2="401.50" stroke="#111111" stroke-width="1.2"/>
<circle cx="64.50" cy="400.50" r="2.1" fill="#111111"/>
<text x="61.17" y="391.90" font-size="12.6" fill="#111" textLength="6.94" lengthAdjust="spacingAndGlyphs">c</text>
<line x1="93.10" y1="361.00" x2="93.10" y2="370.10" stroke="#ff1a72" stroke-width="1.2"/>
<line x1="90.50" y1="361.00" x2="95.70" y2="361.00" stroke="#ff1a72" stroke-width="1.2"/>
<line x1="90.50" y1="370.10" x2="95.70" y2="370.10" stroke="#ff1a72" stroke-width="1.2"/>
<circle cx="93.10" cy="365.80" r="2.1" fill="#ff1a72"/>
<text x="89.50" y="357.50" font-size="12.6" fill="#111" textLength="7.40" lengthAdjust="spacingAndGlyphs">b</text>
<line x1="121.80" y1="313.60" x2="121.80" y2="339.30" stroke="#1a8585" stroke-width="1.2"/>
<line x1="119.20" y1="313.60" x2="124.40" y2="313.60" stroke="#1a8585" stroke-width="1.2"/>
<line x1="119.20" y1="339.30" x2="124.40" y2="339.30" stroke="#1a8585" stroke-width="1.2"/>
<circle cx="121.80" cy="326.60" r="2.1" fill="#1a8585"/>
<text x="117.93" y="309.80" font-size="12.6" fill="#111" textLength="6.91" lengthAdjust="spacingAndGlyphs">a</text>
<line x1="150.40" y1="362.20" x2="150.40" y2="374.70" stroke="#42108f" stroke-width="1.2"/>
<line x1="147.80" y1="362.20" x2="153.00" y2="362.20" stroke="#42108f" stroke-width="1.2"/>
<line x1="147.80" y1="374.70" x2="153.00" y2="374.70" stroke="#42108f" stroke-width="1.2"/>
<circle cx="150.40" cy="368.90" r="2.1" fill="#42108f"/>
<text x="147.31" y="358.50" font-size="12.6" fill="#111" textLength="7.28" lengthAdjust="spacingAndGlyphs">b</text>
<line x1="178.70" y1="331.30" x2="178.70" y2="349.10" stroke="#b07ff0" stroke-width="1.2"/>
<line x1="176.10" y1="331.30" x2="181.30" y2="331.30" stroke="#b07ff0" stroke-width="1.2"/>
<line x1="176.10" y1="349.10" x2="181.30" y2="349.10" stroke="#b07ff0" stroke-width="1.2"/>
<circle cx="178.70" cy="340.10" r="2.1" fill="#b07ff0"/>
<text x="175.43" y="327.90" font-size="12.6" fill="#111" textLength="6.91" lengthAdjust="spacingAndGlyphs">a</text>
<text x="-0.86" y="254.10" font-size="16.6" fill="#111" textLength="4.63" lengthAdjust="spacingAndGlyphs">(</text>
<text x="4.58" y="253.50" font-size="14.3" fill="#111" textLength="8.16" lengthAdjust="spacingAndGlyphs">d</text>
<text x="14.13" y="254.10" font-size="16.6" fill="#111" textLength="4.88" lengthAdjust="spacingAndGlyphs">)</text>
<g transform="translate(19.60,444.54) rotate(-90)"><text x="0" y="0" font-size="13.3" fill="#111" textLength="174.47" lengthAdjust="spacingAndGlyphs">Relative miR168a abundance</text></g>
<line x1="280.80" y1="288.90" x2="280.80" y2="423.10" stroke="#111" stroke-width="1.2"/>
<line x1="273.20" y1="422.50" x2="280.80" y2="422.50" stroke="#111" stroke-width="1.2"/>
<text x="263.79" y="427.00" font-size="12.6" fill="#111" textLength="8.01" lengthAdjust="spacingAndGlyphs">0</text>
<line x1="273.20" y1="378.16" x2="280.80" y2="378.16" stroke="#111" stroke-width="1.2"/>
<text x="263.59" y="382.66" font-size="12.6" fill="#111" textLength="8.42" lengthAdjust="spacingAndGlyphs">2</text>
<line x1="273.20" y1="333.82" x2="280.80" y2="333.82" stroke="#111" stroke-width="1.2"/>
<text x="264.05" y="338.32" font-size="12.6" fill="#111" textLength="7.60" lengthAdjust="spacingAndGlyphs">4</text>
<line x1="273.20" y1="289.48" x2="280.80" y2="289.48" stroke="#111" stroke-width="1.2"/>
<text x="263.60" y="293.98" font-size="12.6" fill="#111" textLength="8.29" lengthAdjust="spacingAndGlyphs">6</text>
<line x1="273.20" y1="422.50" x2="433.90" y2="422.50" stroke="#111" stroke-width="1.2"/>
<line x1="299.50" y1="422.50" x2="299.50" y2="430.30" stroke="#111" stroke-width="1.2"/>
<text x="299.50" y="443.90" font-size="13.1" fill="#111" text-anchor="middle">0</text>
<line x1="328.20" y1="422.50" x2="328.20" y2="430.30" stroke="#111" stroke-width="1.2"/>
<text x="328.20" y="443.90" font-size="13.1" fill="#111" text-anchor="middle">12</text>
<line x1="356.90" y1="422.50" x2="356.90" y2="430.30" stroke="#111" stroke-width="1.2"/>
<text x="356.90" y="443.90" font-size="13.1" fill="#111" text-anchor="middle">24</text>
<line x1="385.30" y1="422.50" x2="385.30" y2="430.30" stroke="#111" stroke-width="1.2"/>
<text x="385.30" y="443.90" font-size="13.1" fill="#111" text-anchor="middle">48</text>
<line x1="413.70" y1="422.50" x2="413.70" y2="430.30" stroke="#111" stroke-width="1.2"/>
<text x="413.70" y="443.90" font-size="13.1" fill="#111" text-anchor="middle">72</text>
<text x="428.51" y="443.50" font-size="12.8" fill="#111" textLength="18.16" lengthAdjust="spacingAndGlyphs">hpi</text>
<text x="346.64" y="272.60" font-size="13.6" fill="#111" textLength="24.61" lengthAdjust="spacingAndGlyphs">LTH</text>
<rect x="290.60" y="400.30" width="17.80" height="22.20" fill="#808080" stroke="#111111" stroke-width="1.2"/>
<rect x="319.30" y="322.80" width="17.80" height="99.70" fill="#ff7fb0" stroke="#ff1a72" stroke-width="1.2"/>
<rect x="348.00" y="335.90" width="17.80" height="86.60" fill="#87c0c0" stroke="#1a8585" stroke-width="1.2"/>
<rect x="376.40" y="331.90" width="17.80" height="90.60" fill="#9b80c2" stroke="#42108f" stroke-width="1.2"/>
<rect x="404.80" y="364.00" width="17.80" height="58.50" fill="#d5b4ff" stroke="#b07ff0" stroke-width="1.2"/>
<line x1="299.50" y1="400.30" x2="328.20" y2="322.80" stroke="#111111" stroke-width="1.2"/>
<line x1="328.20" y1="322.80" x2="356.90" y2="335.90" stroke="#ff1a72" stroke-width="1.2"/>
<line x1="356.90" y1="335.90" x2="385.30" y2="331.90" stroke="#1a8585" stroke-width="1.2"/>
<line x1="385.30" y1="331.90" x2="413.70" y2="364.00" stroke="#42108f" stroke-width="1.2"/>
<line x1="299.50" y1="395.50" x2="299.50" y2="404.10" stroke="#111111" stroke-width="1.2"/>
<line x1="296.90" y1="395.50" x2="302.10" y2="395.50" stroke="#111111" stroke-width="1.2"/>
<line x1="296.90" y1="404.10" x2="302.10" y2="404.10" stroke="#111111" stroke-width="1.2"/>
<circle cx="299.50" cy="400.30" r="2.1" fill="#111111"/>
<text x="296.91" y="391.80" font-size="12.6" fill="#111" textLength="6.41" lengthAdjust="spacingAndGlyphs">b</text>
<line x1="328.20" y1="307.40" x2="328.20" y2="338.20" stroke="#ff1a72" stroke-width="1.2"/>
<line x1="325.60" y1="307.40" x2="330.80" y2="307.40" stroke="#ff1a72" stroke-width="1.2"/>
<line x1="325.60" y1="338.20" x2="330.80" y2="338.20" stroke="#ff1a72" stroke-width="1.2"/>
<circle cx="328.20" cy="322.80" r="2.1" fill="#ff1a72"/>
<text x="324.75" y="303.90" font-size="12.6" fill="#111" textLength="6.59" lengthAdjust="spacingAndGlyphs">a</text>
<line x1="356.90" y1="314.20" x2="356.90" y2="357.40" stroke="#1a8585" stroke-width="1.2"/>
<line x1="354.30" y1="314.20" x2="359.50" y2="314.20" stroke="#1a8585" stroke-width="1.2"/>
<line x1="354.30" y1="357.40" x2="359.50" y2="357.40" stroke="#1a8585" stroke-width="1.2"/>
<circle cx="356.90" cy="335.90" r="2.1" fill="#1a8585"/>
<text x="352.95" y="309.70" font-size="12.6" fill="#111" textLength="6.59" lengthAdjust="spacingAndGlyphs">a</text>
<line x1="385.30" y1="309.00" x2="385.30" y2="354.40" stroke="#42108f" stroke-width="1.2"/>
<line x1="382.70" y1="309.00" x2="387.90" y2="309.00" stroke="#42108f" stroke-width="1.2"/>
<line x1="382.70" y1="354.40" x2="387.90" y2="354.40" stroke="#42108f" stroke-width="1.2"/>
<circle cx="385.30" cy="331.90" r="2.1" fill="#42108f"/>
<text x="381.52" y="306.00" font-size="12.6" fill="#111" textLength="7.02" lengthAdjust="spacingAndGlyphs">a</text>
<line x1="413.70" y1="347.40" x2="413.70" y2="381.20" stroke="#b07ff0" stroke-width="1.2"/>
<line x1="411.10" y1="347.40" x2="416.30" y2="347.40" stroke="#b07ff0" stroke-width="1.2"/>
<line x1="411.10" y1="381.20" x2="416.30" y2="381.20" stroke="#b07ff0" stroke-width="1.2"/>
<circle cx="413.70" cy="364.00" r="2.1" fill="#b07ff0"/>
<text x="405.78" y="344.00" font-size="12.6" fill="#111" textLength="15.13" lengthAdjust="spacingAndGlyphs">ab</text>
<text x="220.54" y="254.10" font-size="16.6" fill="#111" textLength="4.63" lengthAdjust="spacingAndGlyphs">(</text>
<text x="225.94" y="253.50" font-size="14.3" fill="#111" textLength="8.76" lengthAdjust="spacingAndGlyphs">e</text>
<text x="236.33" y="254.10" font-size="16.6" fill="#111" textLength="4.38" lengthAdjust="spacingAndGlyphs">)</text>
<g transform="translate(254.40,443.74) rotate(-90)"><text x="0" y="0" font-size="13.3" fill="#111" textLength="174.07" lengthAdjust="spacingAndGlyphs">Relative miR168a abundance</text></g>
<line x1="520.40" y1="288.40" x2="520.40" y2="423.10" stroke="#111" stroke-width="1.2"/>
<line x1="512.80" y1="422.50" x2="520.40" y2="422.50" stroke="#111" stroke-width="1.2"/>
<text x="492.06" y="427.00" font-size="12.6" fill="#111" textLength="17.36" lengthAdjust="spacingAndGlyphs">0.0</text>
<line x1="512.80" y1="389.12" x2="520.40" y2="389.12" stroke="#111" stroke-width="1.2"/>
<text x="492.06" y="393.62" font-size="12.6" fill="#111" textLength="17.40" lengthAdjust="spacingAndGlyphs">0.5</text>
<line x1="512.80" y1="355.75" x2="520.40" y2="355.75" stroke="#111" stroke-width="1.2"/>
<text x="491.57" y="360.25" font-size="12.6" fill="#111" textLength="17.87" lengthAdjust="spacingAndGlyphs">1.0</text>
<line x1="512.80" y1="322.38" x2="520.40" y2="322.38" stroke="#111" stroke-width="1.2"/>
<text x="491.57" y="326.88" font-size="12.6" fill="#111" textLength="17.91" lengthAdjust="spacingAndGlyphs">1.5</text>
<line x1="512.80" y1="289.00" x2="520.40" y2="289.00" stroke="#111" stroke-width="1.2"/>
<text x="491.92" y="293.50" font-size="12.6" fill="#111" textLength="17.51" lengthAdjust="spacingAndGlyphs">2.0</text>
<line x1="512.80" y1="422.50" x2="672.90" y2="422.50" stroke="#111" stroke-width="1.2"/>
<line x1="539.20" y1="422.50" x2="539.20" y2="430.30" stroke="#111" stroke-width="1.2"/>
<text x="539.20" y="443.90" font-size="13.1" fill="#111" text-anchor="middle">0</text>
<line x1="567.90" y1="422.50" x2="567.90" y2="430.30" stroke="#111" stroke-width="1.2"/>
<text x="567.90" y="443.90" font-size="13.1" fill="#111" text-anchor="middle">12</text>
<line x1="596.40" y1="422.50" x2="596.40" y2="430.30" stroke="#111" stroke-width="1.2"/>
<text x="596.40" y="443.90" font-size="13.1" fill="#111" text-anchor="middle">24</text>
<line x1="624.90" y1="422.50" x2="624.90" y2="430.30" stroke="#111" stroke-width="1.2"/>
<text x="624.90" y="443.90" font-size="13.1" fill="#111" text-anchor="middle">48</text>
<line x1="653.40" y1="422.50" x2="653.40" y2="430.30" stroke="#111" stroke-width="1.2"/>
<text x="653.40" y="443.90" font-size="13.1" fill="#111" text-anchor="middle">72</text>
<text x="667.46" y="443.50" font-size="12.8" fill="#111" textLength="19.16" lengthAdjust="spacingAndGlyphs">hpi</text>
<text x="575.16" y="272.60" font-size="13.6" fill="#111" textLength="38.04" lengthAdjust="spacingAndGlyphs">R2115</text>
<rect x="530.30" y="356.10" width="17.80" height="66.40" fill="#808080" stroke="#111111" stroke-width="1.2"/>
<rect x="559.00" y="367.50" width="17.80" height="55.00" fill="#ff7fb0" stroke="#ff1a72" stroke-width="1.2"/>
<rect x="587.50" y="326.30" width="17.80" height="96.20" fill="#87c0c0" stroke="#1a8585" stroke-width="1.2"/>
<rect x="616.00" y="335.50" width="17.80" height="87.00" fill="#9b80c2" stroke="#42108f" stroke-width="1.2"/>
<rect x="644.50" y="373.30" width="17.80" height="49.20" fill="#d5b4ff" stroke="#b07ff0" stroke-width="1.2"/>
<line x1="539.20" y1="356.10" x2="567.90" y2="367.50" stroke="#111111" stroke-width="1.2"/>
<line x1="567.90" y1="367.50" x2="596.40" y2="326.30" stroke="#ff1a72" stroke-width="1.2"/>
<line x1="596.40" y1="326.30" x2="624.90" y2="335.50" stroke="#1a8585" stroke-width="1.2"/>
<line x1="624.90" y1="335.50" x2="653.40" y2="373.30" stroke="#42108f" stroke-width="1.2"/>
<line x1="539.20" y1="352.90" x2="539.20" y2="358.80" stroke="#111111" stroke-width="1.2"/>
<line x1="536.60" y1="352.90" x2="541.80" y2="352.90" stroke="#111111" stroke-width="1.2"/>
<line x1="536.60" y1="358.80" x2="541.80" y2="358.80" stroke="#111111" stroke-width="1.2"/>
<circle cx="539.20" cy="356.10" r="2.1" fill="#111111"/>
<text x="535.58" y="349.80" font-size="12.6" fill="#111" textLength="7.52" lengthAdjust="spacingAndGlyphs">b</text>
<line x1="567.90" y1="363.60" x2="567.90" y2="370.80" stroke="#ff1a72" stroke-width="1.2"/>
<line x1="565.30" y1="363.60" x2="570.50" y2="363.60" stroke="#ff1a72" stroke-width="1.2"/>
<line x1="565.30" y1="370.80" x2="570.50" y2="370.80" stroke="#ff1a72" stroke-width="1.2"/>
<circle cx="567.90" cy="367.50" r="2.1" fill="#ff1a72"/>
<text x="561.18" y="361.80" font-size="12.6" fill="#111" textLength="14.32" lengthAdjust="spacingAndGlyphs">bc</text>
<line x1="596.40" y1="316.50" x2="596.40" y2="337.10" stroke="#1a8585" stroke-width="1.2"/>
<line x1="593.80" y1="316.50" x2="599.00" y2="316.50" stroke="#1a8585" stroke-width="1.2"/>
<line x1="593.80" y1="337.10" x2="599.00" y2="337.10" stroke="#1a8585" stroke-width="1.2"/>
<circle cx="596.40" cy="326.30" r="2.1" fill="#1a8585"/>
<text x="592.56" y="313.40" font-size="12.6" fill="#111" textLength="6.48" lengthAdjust="spacingAndGlyphs">a</text>
<line x1="624.90" y1="329.40" x2="624.90" y2="340.90" stroke="#42108f" stroke-width="1.2"/>
<line x1="622.30" y1="329.40" x2="627.50" y2="329.40" stroke="#42108f" stroke-width="1.2"/>
<line x1="622.30" y1="340.90" x2="627.50" y2="340.90" stroke="#42108f" stroke-width="1.2"/>
<circle cx="624.90" cy="335.50" r="2.1" fill="#42108f"/>
<text x="621.90" y="327.10" font-size="12.6" fill="#111" textLength="5.94" lengthAdjust="spacingAndGlyphs">a</text>
<line x1="653.40" y1="369.00" x2="653.40" y2="376.90" stroke="#b07ff0" stroke-width="1.2"/>
<line x1="650.80" y1="369.00" x2="656.00" y2="369.00" stroke="#b07ff0" stroke-width="1.2"/>
<line x1="650.80" y1="376.90" x2="656.00" y2="376.90" stroke="#b07ff0" stroke-width="1.2"/>
<circle cx="653.40" cy="373.30" r="2.1" fill="#b07ff0"/>
<text x="650.05" y="366.60" font-size="12.6" fill="#111" textLength="5.90" lengthAdjust="spacingAndGlyphs">c</text>
<text x="448.48" y="254.10" font-size="16.6" fill="#111" textLength="4.38" lengthAdjust="spacingAndGlyphs">(</text>
<text x="454.09" y="253.50" font-size="14.3" fill="#111" textLength="4.07" lengthAdjust="spacingAndGlyphs">f</text>
<text x="459.13" y="254.10" font-size="16.6" fill="#111" textLength="4.88" lengthAdjust="spacingAndGlyphs">)</text>
<g transform="translate(483.30,443.73) rotate(-90)"><text x="0" y="0" font-size="13.3" fill="#111" textLength="173.36" lengthAdjust="spacingAndGlyphs">Relative miR168a abundance</text></g>
</svg></body></html>
